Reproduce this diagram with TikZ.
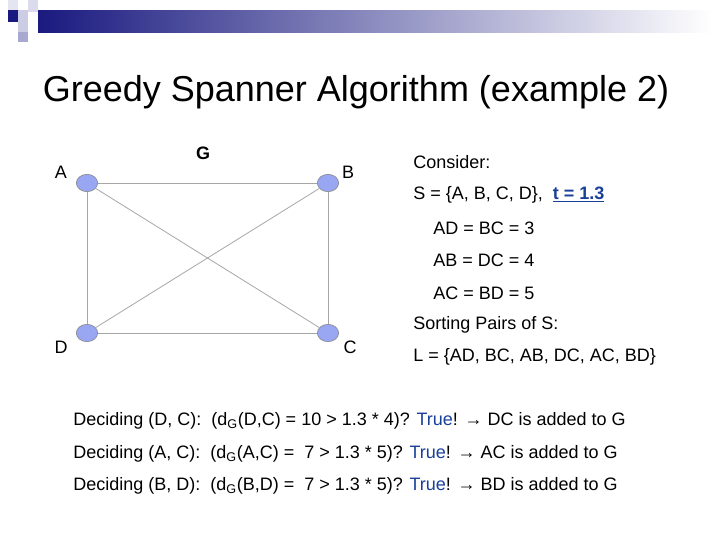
\documentclass[tikz,border=0pt]{standalone}
\usepackage{fontspec}
\setmainfont{Liberation Sans}
\usetikzlibrary{positioning,shapes.geometric}
\definecolor{navy}{rgb}{0.1,0.1,0.5}
\definecolor{pale}{rgb}{0.8,0.8,0.9}
\definecolor{vertex}{rgb}{0.6,0.65,0.95}
\definecolor{truecol}{rgb}{0.1,0.25,0.6}
\tikzset{
  vert/.style={ellipse, draw=gray, fill=vertex, minimum width=16pt, minimum height=13pt, inner sep=0pt},
  label/.style={font=\fontsize{13.5}{16}\selectfont, inner sep=0pt},
  line/.style={anchor=west, font=\fontsize{13.5}{16}\selectfont, inner sep=0pt},
  edge/.style={draw=gray!70, line width=0.6pt}
}
\begin{document}
\begin{tikzpicture}[x=0.75pt,y=-0.75pt]
\useasboundingbox (0,0) rectangle (720,540);

% header bar
\shade[left color=navy, right color=white] (38,10) rectangle (712,32);
\fill[navy] (8,10) rectangle (18,22);
\fill[pale] (18,10) rectangle (28,22);
\fill[pale!70] (28,0) rectangle (38,12);
\fill[pale] (18,22) rectangle (28,32);
\fill[pale!80!navy] (18,32) rectangle (28,42);
\fill[pale!50] (8,0) rectangle (18,10);

\node[font=\fontsize{27}{32}\selectfont] (title) at (356,92) {Greedy Spanner Algorithm (example 2)};

% vertices
\node[vert] (A) at (87,183) {};
\node[vert] (B) at (328,183) {};
\node[vert] (D) at (87,333) {};
\node[vert] (C) at (328,333) {};
\path[edge] (A) -- (B) -- (C) -- (D) -- (A);
\path[edge] (A) -- (C);
\path[edge] (B) -- (D);

\node[label] (lA) at (61,172) {A};
\node[label] (lB) at (348,172) {B};
\node[label] (lC) at (350,347) {C};
\node[label] (lD) at (61,347) {D};
\node[label, font=\bfseries\fontsize{13.5}{16}\selectfont] (lG) at (203,153) {G};

% right column
\node[line] (consider) at (413,162) {Consider:};
\node[line] (set) at (413,195) {S = \{A, B, C, D\},\ \ \textcolor{truecol}{\bfseries\underline{t = 1.3}}};
\node[line] (ad) at (433,228) {AD = BC = 3};
\node[line] (ab) at (433,260) {AB = DC = 4};
\node[line] (ac) at (433,293) {AC = BD = 5};
\node[line] (sort) at (413,325) {Sorting Pairs of S:};
\node[line] (list) at (413,357) {L = \{AD, BC, AB, DC, AC, BD\}};

% decisions
\node[line] (dc) at (73,421) {Deciding (D, C):\ \ (d\textsubscript{G}(D,C) = 10 > 1.3 * 4)? \textcolor{truecol}{True}! → DC is added to G};
\node[line] (acd) at (73,454) {Deciding (A, C):\ \ (d\textsubscript{G}(A,C) = \ 7 > 1.3 * 5)? \textcolor{truecol}{True}! → AC is added to G};
\node[line] (bd) at (73,486) {Deciding (B, D):\ \ (d\textsubscript{G}(B,D) = \ 7 > 1.3 * 5)? \textcolor{truecol}{True}! → BD is added to G};
\end{tikzpicture}
\end{document}
